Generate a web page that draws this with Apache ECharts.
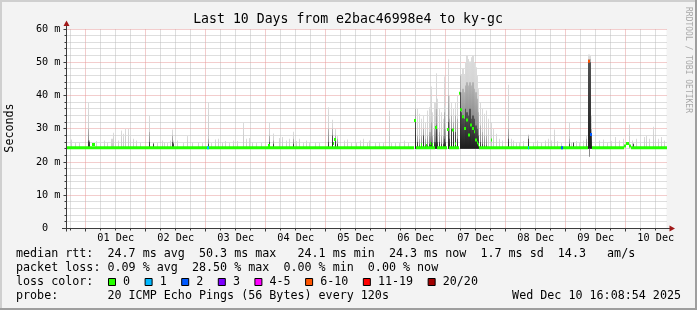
<!DOCTYPE html>
<html><head><meta charset="utf-8">
<script src="https://cdn.jsdelivr.net/npm/echarts@6/dist/echarts.min.js"></script>
<style>html,body{margin:0;padding:0;background:#f3f3f3}#c{width:697px;height:310px}</style>
</head><body><div id="c"></div>
<script>
// ---------------- data ----------------
const TITLE = 'Last 10 Days from e2bac46998e4 to ky-gc';
const Y_NAME = 'Seconds';
const WATERMARK = 'RRDTOOL / TOBI OETIKER';
const dayLabels = ['01 Dec','02 Dec','03 Dec','04 Dec','05 Dec','06 Dec','07 Dec','08 Dec','09 Dec','10 Dec'];
const yMajorTicks = [10, 20, 30, 40, 50, 60];
const yMinorTicks = [2,4,6,8,12,14,16,18,22,24,26,28,32,34,36,38,42,44,46,48,52,54,56,58];
// x unit: hours since 01 Dec 00:00
const X_MIN = -7.7, X_MAX = 232.3;
const SMOKE_FLOOR = 24.0;   // lowest ping (ms)
// smoke columns: [hour, max ms, upper-quartile ms, dense-core ms]  (0 = none)
const smoke = [
[-5.8,26.8,0,0],[-4.2,26.0,0,0],[-2.6,25.8,0,0],
[1.0,37.8,30,26.5],[1.4,26.5,26.5,26.0],[4.2,26.3,0,0],[5.8,26.0,0,0],[7.4,26.5,0,0],[8.6,26.0,0,0],[10.2,27.0,0,0],[10.9,28.8,0,0],[11.8,27.8,0,0],[13.0,26.5,0,0],[14.2,29.5,0,0],[15.0,28.5,0,0],[15.8,30.0,0,0],[16.9,30.0,0,0],[17.8,28.0,0,0],[19.0,27.0,0,0],[20.2,26.5,0,0],[21.8,26.0,0,0],
[25.2,34.0,29,26],[26.9,25.8,25.8,25.5],[28.6,26.0,0,0],[30.6,26.5,0,0],[31.4,26.0,0,0],[32.6,25.8,0,0],[33.8,26.5,0,0],[34.6,29.8,28,26],[35.0,26.5,26,25.6],[36.6,26.5,0,0],[39.0,25.8,0,0],[40.6,27.8,0,0],[42.6,26.0,0,0],[45.0,26.0,0,0],[46.6,25.8,0,0],
[49.0,38.0,27,25.5],[50.2,25.8,0,0],[51.8,26.8,0,0],[53.0,27.0,0,0],[54.6,26.0,0,0],[55.8,26.3,0,0],[57.4,25.8,0,0],[59.0,26.5,0,0],[60.6,26.3,0,0],[62.8,31.9,0,0],[64.2,27.0,0,0],[65.4,27.2,0,0],[66.6,26.0,0,0],[68.2,25.8,0,0],[70.2,26.0,0,0],
[73.2,31.8,28,26],[75.0,28.6,26.5,25.5],[77.4,27.2,0,0],[78.6,27.5,0,0],[80.2,26.5,0,0],[81.4,27.0,0,0],[82.8,29.1,27,25.5],[84.2,26.3,0,0],[85.4,27.0,0,0],[87.0,26.0,0,0],[88.2,26.5,0,0],[89.4,26.0,0,0],[91.8,26.0,0,0],[93.4,25.8,0,0],
[97.0,36.5,30,26],[98.6,32.7,30,28],[99.8,30.0,28,27],[100.6,28.0,27,25.5],[103.4,26.5,0,0],[104.6,26.8,0,0],[106.2,26.0,0,0],[108.2,26.0,0,0],[109.8,26.5,0,0],[111.0,27.0,0,0],[112.6,26.0,0,0],[113.4,26.5,0,0],[115.8,25.8,0,0],[117.4,26.0,0,0],[119.0,25.8,0,0],
[121.2,35.5,0,0],[122.2,25.8,0,0],[123.8,26.0,0,0],[125.4,25.8,0,0],[127.4,26.5,0,0],[129.0,26.0,0,0],
[131.6,45.2,36,32.7],[132.6,36.0,28,26],[133.4,34.5,27,25],[134.2,33.0,28,25.5],[135.0,34.0,30,28],[135.8,32.0,27,25],[136.6,35.5,28,25],[137.4,36.5,29,25.5],[138.0,42.7,32,26],[138.6,35.0,28,25],[139.4,38.0,30,26],[140.1,46.7,36,31],[140.6,39.0,30,26],[141.4,36.0,29,26],[142.2,35.0,28,25.5],[143.0,33.0,28,25.5],[143.4,45.7,35,27],[143.8,37.0,30,26],
[145.0,50.9,40,32],[145.4,40.0,33,27],[146.2,38.0,34,30],[147.0,36.0,32,30],[147.8,38.0,34,29],[148.6,40.0,33,27],[149.6,56.8,46,41],[150.2,46.5,41,35],[150.6,48.0,42,34],[151.2,46.5,41,33],[151.6,50.0,43,36],[152.2,52.2,44,35],[152.8,51.0,43,34],[153.4,50.2,44,36],[154.0,51.5,43,33],[154.6,52.2,44,34],[155.2,50.0,42,33],[155.8,48.5,41,31],[156.4,46.0,39,30],[157.0,42.0,35,28],[157.8,38.0,31,26],[158.6,36.0,29,25.5],[159.4,34.5,28,25],[160.2,35.5,28,25],[161.0,33.0,0,0],[162.2,32.0,0,0],[163.0,30.0,0,0],[164.2,28.5,0,0],[165.4,27.0,0,0],[166.6,26.5,0,0],
[168.8,43.2,30,27],[170.2,27.0,0,0],[171.0,26.5,0,0],[172.2,26.0,0,0],[173.4,26.0,0,0],[175.0,26.3,0,0],[177.0,28.3,28,27],[179.0,26.0,0,0],[180.6,26.5,0,0],[182.2,26.0,0,0],[183.8,26.5,0,0],[185.0,27.0,0,0],[186.2,26.5,0,0],[187.4,29.8,0,0],[188.6,26.3,0,0],[190.2,25.8,0,0],
[193.2,32.0,27,25.5],[194.0,26.0,0,0],[194.8,26.0,26,25.8],[196.2,26.3,0,0],[197.4,26.0,0,0],[199.0,26.5,0,0],[200.2,28.0,27,0],[201.0,52.3,51,50.3],[201.6,52.0,51,50.0],[202.2,34.0,30,28.3],[203.8,26.0,0,0],[205.4,26.5,0,0],[207.0,26.8,0,0],[208.6,26.0,0,0],[210.2,26.3,0,0],[211.8,27.5,0,0],[213.4,26.5,0,0],[215.0,27.0,0,0],
[217.2,31.3,0,0],[218.6,26.5,0,0],[219.0,25.5,25.5,25.5],[220.2,27.0,0,0],[221.8,26.5,0,0],[223.4,27.5,0,0],[224.2,28.0,0,0],[225.4,27.0,0,0],[226.7,30.6,0,0],[227.8,27.5,0,0],[229.0,27.0,0,0],[230.2,27.5,0,0],[231.4,26.5,0,0]
];
// pings below the floor: [hour, min ms]
const lowOutliers = [[201.3, 21.6]];
// median rtt segments: [from hour, to hour, median ms, loss bucket]
const median = [
[-7.7,131.4,24.25,0],[2.6,3.8,25.3,0],[48.6,49.2,24.25,1],[73.0,73.6,25.0,0],[99.0,99.4,25.6,0],[99.4,100.2,26.8,0],
[131.4,132.2,32.5,0],[132.2,139.8,24.25,0],[134.2,134.6,25.2,0],[136.2,136.6,25.0,0],[137.8,138.2,25.6,0],[138.6,139.0,25.3,0],
[139.8,140.6,30.4,0],[140.6,144.6,24.25,0],[144.6,145.4,29.8,0],[145.4,149.2,24.25,0],[146.6,147.2,29.6,0],[147.6,148.0,25.5,0],
[149.2,149.8,40.7,0],[149.8,150.4,35.7,0],[150.4,151.1,33.6,0],[151.4,152.0,30.1,0],[152.2,152.8,32.6,0],[153.0,153.6,28.1,0],[153.8,154.4,31.1,0],[154.5,155.1,30.1,0],[155.1,155.7,29.1,0],[155.8,156.4,26.6,0],[156.4,157.0,25.8,0],[157.0,157.4,25.2,0],
[157.4,200.9,24.25,0],[162.0,162.4,26.6,0],[176.8,177.4,24.25,1],[190.0,191.0,24.25,2],
[200.9,201.7,50.3,5],[201.7,202.4,28.3,2],[202.4,215.4,24.25,0],[215.4,216.0,24.8,0],[216.0,217.4,25.6,0],[217.4,218.2,24.8,0],[218.2,232.3,24.25,0]
];
const lossLabels = ['0','1','2','3','4-5','6-10','11-19','20/20'];
const lossColors = ['#26ff00','#00b8ff','#0059ff','#7e00ff','#ff00ff','#ff5500','#ff0000','#a10000'];
const statRtt  = 'median rtt:  24.7 ms avg  50.3 ms max   24.1 ms min  24.3 ms now  1.7 ms sd  14.3   am/s';
const statLoss = 'packet loss: 0.09 % avg  28.50 % max  0.00 % min  0.00 % now';
const lossTitle = 'loss color:';
const probeText = 'probe:       20 ICMP Echo Pings (56 Bytes) every 120s';
const stampText = 'Wed Dec 10 16:08:54 2025';

// ---------------- layout ----------------
const MONO = '"DejaVu Sans Mono", monospace';
const G = {left: 66.5, right: 30.5, top: 29, bottom: 81.5};
const MAJOR_GRID = '#e79a9a', MINOR_GRID = '#bdbdbd', AXIS = '#3c3c3c';
const dayTicks = dayLabels.map((_, i) => i * 24);
const noonTicks = dayLabels.map((_, i) => i * 24 + 12);
const sixHourTicks = [];
for (let h = -6; h < X_MAX; h += 6) if (((h % 24) + 24) % 24 !== 0) sixHourTicks.push(h);
const vGrid = sixHourTicks.map(h => [h, 0, 0]).concat(dayTicks.map(h => [h, 0, 1]));
const hGrid = yMinorTicks.map(v => [X_MIN, v, 0]).concat(yMajorTicks.map(v => [X_MIN, v, 1]));

const chart = echarts.init(document.getElementById('c'), null, {renderer: 'canvas', width: 697, height: 310});

function vgrad(top, bottom) {
  return {type: 'linear', x: 0, y: 0, x2: 0, y2: 1, colorStops: [{offset: 0, color: top}, {offset: 1, color: bottom}]};
}
function renderVGrid(params, api) {
  const h = api.value(0), major = api.value(2) === 1;
  const b = api.coord([h, 0]), t = api.coord([h, 60]);
  const x = Math.floor(b[0]) + 0.5;
  return {type: 'group', children: [
    {type: 'line', shape: {x1: x, y1: b[1], x2: x, y2: t[1]}, style: {stroke: major ? MAJOR_GRID : MINOR_GRID, lineWidth: 1, lineDash: [1, 1]}},
    {type: 'line', shape: {x1: x, y1: b[1], x2: x, y2: b[1] + (major ? 3 : 2)}, style: {stroke: AXIS, lineWidth: 1}}
  ]};
}
function renderHGrid(params, api) {
  const v = api.value(1), major = api.value(2) === 1;
  const l = api.coord([X_MIN, v]), r = api.coord([X_MAX, v]);
  const y = Math.floor(l[1]) + 0.5;
  return {type: 'group', children: [
    {type: 'line', shape: {x1: l[0] + 1, y1: y, x2: r[0], y2: y}, style: {stroke: major ? MAJOR_GRID : MINOR_GRID, lineWidth: 1, lineDash: [1, 1]}},
    {type: 'line', shape: {x1: l[0] - (major ? 3 : 2), y1: y, x2: l[0], y2: y}, style: {stroke: AXIS, lineWidth: 1}}
  ]};
}
function renderSmoke(params, api) {
  const i = params.dataIndex;
  const h = api.value(0);
  const base = api.coord([h, SMOKE_FLOOR]);
  const x0 = Math.round(base[0]);
  let x1 = x0 + 1;
  const next = smoke[i + 1];
  if (next) {
    const xn = api.coord([next[0], SMOKE_FLOOR])[0];
    if (xn - base[0] < 1.8) x1 = Math.max(x0 + 1, Math.round(xn));
  }
  const w = x1 - x0;
  const kids = [];
  const layers = [
    [api.value(1), vgrad('#dcdcdc', '#c2c2c2')],
    [api.value(2), vgrad('#b4b4b4', '#6c6c6c')],
    [api.value(3), vgrad('#545454', '#1c1c1c')]
  ];
  for (const [v, col] of layers) {
    if (!(v > SMOKE_FLOOR)) continue;
    const yt = api.coord([h, v])[1];
    kids.push({type: 'rect', shape: {x: x0, y: yt, width: w, height: base[1] - yt}, style: {fill: col}});
  }
  return {type: 'group', children: kids};
}
function renderLow(params, api) {
  const a = api.coord([api.value(0), SMOKE_FLOOR]);
  const b = api.coord([api.value(0), api.value(1)]);
  return {type: 'rect', shape: {x: Math.round(a[0]), y: a[1], width: 1, height: b[1] - a[1]}, style: {fill: '#8a8a8a'}};
}
function renderMedian(params, api) {
  const a = api.coord([api.value(0), api.value(2)]);
  const b = api.coord([api.value(1), api.value(2)]);
  const l = Math.round(a[0]);
  const r = Math.max(l + 1, Math.round(b[0]));
  return {type: 'rect', shape: {x: l, y: a[1] - 1.5, width: r - l, height: 3}, style: {fill: lossColors[api.value(3)]}};
}

const graphics = [];
graphics.push({type:'rect', shape:{x:0,y:0,width:697,height:2}, style:{fill:'#cfcfcf'}, silent:true});
graphics.push({type:'rect', shape:{x:0,y:0,width:2,height:310}, style:{fill:'#cfcfcf'}, silent:true});
graphics.push({type:'rect', shape:{x:0,y:308,width:697,height:2}, style:{fill:'#9e9e9e'}, silent:true});
graphics.push({type:'rect', shape:{x:695,y:0,width:2,height:310}, style:{fill:'#9e9e9e'}, silent:true});
graphics.push({type:'text', x:348, y:19.5, style:{text:TITLE, font:'13.2px '+MONO, fill:'#000', align:'center', verticalAlign:'middle'}});
graphics.push({type:'text', x:10, y:128, rotation:Math.PI/2, style:{text:Y_NAME, font:'11.7px '+MONO, fill:'#000', align:'center', verticalAlign:'middle'}});
graphics.push({type:'text', x:688, y:60, rotation:-Math.PI/2, style:{text:WATERMARK, font:'8px '+MONO, fill:'#a8a8a8', align:'center', verticalAlign:'middle'}});
const axY = 228.5, axX = 66.5;
graphics.push({type:'line', shape:{x1:axX, y1:axY + 3, x2:axX, y2:24}, style:{stroke:AXIS, lineWidth:1}, z:50});
graphics.push({type:'line', shape:{x1:62, y1:axY, x2:670, y2:axY}, style:{stroke:AXIS, lineWidth:1}, z:50});
graphics.push({type:'polygon', shape:{points:[[axX,20.5],[axX-3,26],[axX+3,26]]}, style:{fill:'#a01818'}, z:51});
graphics.push({type:'polygon', shape:{points:[[675,axY],[669.5,axY-3],[669.5,axY+3]]}, style:{fill:'#a01818'}, z:51});
const LF = '11.7px ' + MONO, CW = 7.05, LX = 16;
const lineY = [254.3, 268.3, 282.3, 296.3];
graphics.push({type:'text', x:LX, y:lineY[0], style:{text:statRtt, font:LF, fill:'#000', verticalAlign:'middle'}});
graphics.push({type:'text', x:LX, y:lineY[1], style:{text:statLoss, font:LF, fill:'#000', verticalAlign:'middle'}});
graphics.push({type:'text', x:LX, y:lineY[2], style:{text:lossTitle, font:LF, fill:'#000', verticalAlign:'middle'}});
let bx = 108.5;
lossLabels.forEach((lab, i) => {
  graphics.push({type:'rect', shape:{x:bx, y:lineY[2]-3.8, width:7, height:7}, style:{fill:lossColors[i], stroke:'#000', lineWidth:1}});
  graphics.push({type:'text', x:bx + 14.6, y:lineY[2], style:{text:lab, font:LF, fill:'#000', verticalAlign:'middle'}});
  bx += 29.55 + lab.length * CW;
});
graphics.push({type:'text', x:LX, y:lineY[3], style:{text:probeText, font:LF, fill:'#000', verticalAlign:'middle'}});
graphics.push({type:'text', x:681, y:lineY[3], style:{text:stampText, font:LF, fill:'#000', align:'right', verticalAlign:'middle'}});

const option = {
  animation: false,
  backgroundColor: '#f3f3f3',
  textStyle: {fontFamily: MONO},
  grid: {left: G.left, right: G.right, top: G.top, bottom: G.bottom, show: true, backgroundColor: '#ffffff', borderWidth: 0, containLabel: false},
  xAxis: {
    type: 'value', min: X_MIN, max: X_MAX, position: 'bottom',
    axisLine: {show: false, onZero: false},
    axisTick: {show: false},
    axisLabel: {customValues: noonTicks, margin: 5, fontSize: 10.2, color: '#000', fontFamily: MONO,
      formatter: v => dayLabels[Math.round((v - 12) / 24)]},
    splitLine: {show: false}
  },
  yAxis: {
    type: 'value', min: 0, max: 60, interval: 10,
    axisLine: {show: false, onZero: false},
    axisTick: {show: false},
    axisLabel: {margin: 6, fontSize: 10.2, color: '#000', fontFamily: MONO,
      formatter: v => v === 0 ? '0  ' : v + ' m'},
    splitLine: {show: false}
  },
  series: [
    {type: 'custom', name: 'vgrid', renderItem: renderVGrid, data: vGrid, encode: {x: 0, y: 1}, clip: false, z: 1, silent: true},
    {type: 'custom', name: 'hgrid', renderItem: renderHGrid, data: hGrid, encode: {x: 0, y: 1}, clip: false, z: 1, silent: true},
    {type: 'custom', name: 'smoke', renderItem: renderSmoke, data: smoke, encode: {x: 0, y: 1}, clip: true, z: 2},
    {type: 'custom', name: 'low', renderItem: renderLow, data: lowOutliers, encode: {x: 0, y: 1}, clip: true, z: 2},
    {type: 'custom', name: 'median', renderItem: renderMedian, data: median, encode: {x: [0, 1], y: 2}, clip: true, z: 3}
  ],
  graphic: {elements: graphics}
};
chart.setOption(option);
</script></body></html>
